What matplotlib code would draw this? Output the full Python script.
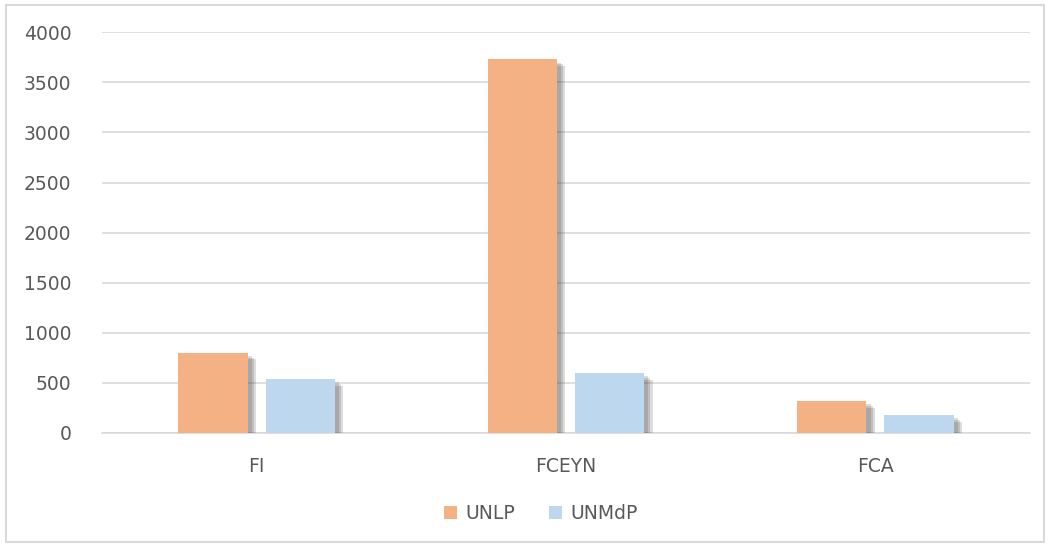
import numpy as np
import matplotlib
matplotlib.use('Agg')
import matplotlib.pyplot as plt
import matplotlib.patheffects as pe
from matplotlib.patches import Rectangle, Patch

# Data
categories = ['FI', 'FCEYN', 'FCA']
unlp       = [800, 3730, 320]
unmdp      = [540, 600, 180]
series     = ['UNLP', 'UNMdP']
colors     = ['#f4b183', '#bdd7ee']

plt.rcParams['font.family'] = ['DejaVu Sans']
TXT = '#595959'
GRID = '#d9d9d9'

fig = plt.figure(figsize=(10.5, 5.46), dpi=100)
ax = fig.add_axes([0.097, 0.207, 0.884, 0.734])

# outer chart border
fig.patches.append(Rectangle((0.006, 0.008), 0.988, 0.982, transform=fig.transFigure,
                             fill=False, edgecolor='#d9d9d9', linewidth=1.5))

x = np.arange(len(categories))
w = 0.224
gap = 0.058
# soft drop shadow, a few layers
shadow = [pe.SimplePatchShadow(offset=(o, -o * 0.8), shadow_rgbFace='#404040', alpha=0.18)
          for o in (6, 4.5, 3)] + [pe.Normal()]
for i, (vals, c) in enumerate(zip([unlp, unmdp], colors)):
    off = (i - 0.5) * (w + gap)
    bars = ax.bar(x + off, vals, width=w, color=c, zorder=3)
    for b in bars:
        b.set_path_effects(shadow)

ax.set_xlim(-0.5, len(categories) - 0.5)
ax.set_ylim(0, 4000)
ax.set_yticks(range(0, 4001, 500))
ax.set_xticks(x)
ax.set_xticklabels(categories)
ax.yaxis.grid(True, color=GRID, linewidth=1.2, zorder=0)
ax.set_axisbelow(True)
for s in ['top', 'right', 'left']:
    ax.spines[s].set_visible(False)
ax.spines['bottom'].set_color(GRID)
ax.spines['bottom'].set_linewidth(1.2)
ax.tick_params(axis='both', length=0, labelsize=13.5, colors=TXT)
ax.tick_params(axis='y', pad=22)
ax.tick_params(axis='x', pad=17)

handles = [Patch(facecolor=c, label=s) for s, c in zip(series, colors)]
leg = ax.legend(handles=handles, loc='upper center', bbox_to_anchor=(0.473, -0.135), ncol=2,
                frameon=False, fontsize=13.5, handlelength=0.7, handleheight=0.7,
                handletextpad=0.45, columnspacing=1.8)
for t in leg.get_texts():
    t.set_color(TXT)

fig.savefig('out.png', dpi=100, facecolor='white')
